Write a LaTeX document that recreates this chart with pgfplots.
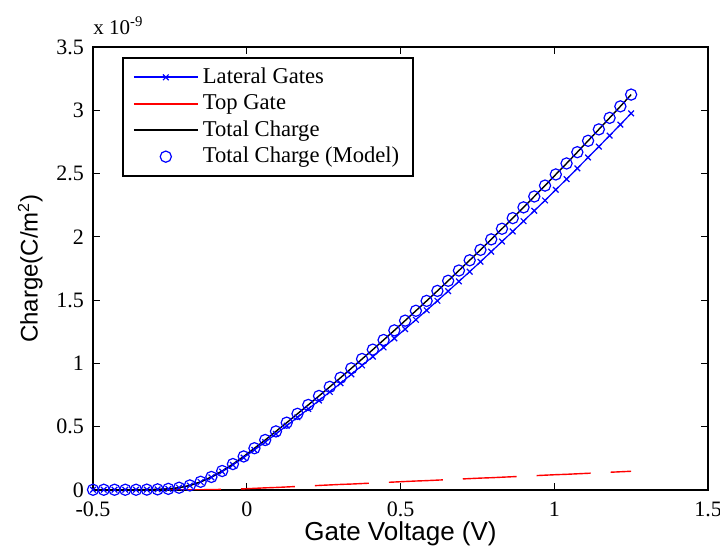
\documentclass[border=0pt]{standalone}
\usepackage{fontspec}
\setmainfont{Liberation Serif}
\newfontfamily\arial{Liberation Sans}
\usepackage{pgfplots}
\usepackage{pgfplotstable}
\pgfplotsset{compat=1.18}
\pgfplotstableread{
x lat top tot
-0.500 0.002 0.000 0.002
-0.465 0.002 0.000 0.002
-0.430 0.002 0.000 0.002
-0.395 0.002 0.000 0.002
-0.360 0.002 0.000 0.002
-0.325 0.003 0.000 0.003
-0.290 0.005 0.000 0.005
-0.255 0.009 0.000 0.009
-0.220 0.018 0.000 0.018
-0.185 0.035 0.001 0.036
-0.150 0.063 0.002 0.065
-0.115 0.100 0.003 0.103
-0.080 0.145 0.005 0.150
-0.045 0.198 0.007 0.205
-0.010 0.256 0.009 0.265
0.025 0.317 0.013 0.330
0.060 0.378 0.017 0.395
0.095 0.443 0.020 0.463
0.130 0.508 0.024 0.532
0.165 0.574 0.028 0.602
0.200 0.640 0.032 0.672
0.235 0.707 0.036 0.743
0.270 0.775 0.040 0.815
0.305 0.843 0.044 0.887
0.340 0.914 0.047 0.961
0.375 0.984 0.051 1.035
0.410 1.054 0.055 1.109
0.445 1.126 0.059 1.185
0.480 1.198 0.063 1.261
0.515 1.271 0.067 1.338
0.550 1.345 0.071 1.416
0.585 1.420 0.074 1.494
0.620 1.495 0.078 1.573
0.655 1.571 0.082 1.653
0.690 1.648 0.086 1.734
0.725 1.725 0.090 1.815
0.760 1.803 0.094 1.897
0.795 1.883 0.097 1.980
0.830 1.963 0.101 2.064
0.865 2.043 0.105 2.148
0.900 2.124 0.109 2.233
0.935 2.206 0.113 2.319
0.970 2.288 0.117 2.405
1.005 2.372 0.121 2.493
1.040 2.456 0.124 2.580
1.075 2.541 0.128 2.669
1.110 2.627 0.132 2.759
1.145 2.713 0.136 2.849
1.180 2.800 0.140 2.940
1.215 2.887 0.144 3.031
1.250 2.976 0.148 3.124
}\datatable
\begin{document}
\begin{tikzpicture}
\begin{axis}[
  scale only axis,
  width=307.5pt, height=221.5pt,
  xmin=-0.5, xmax=1.5, ymin=0, ymax=3.5,
  xtick={-0.5,0,0.5,1,1.5},
  xticklabels={-0.5,0,0.5,1,1.5},
  ytick={0,0.5,1,1.5,2,2.5,3,3.5},
  yticklabels={0,0.5,1,1.5,2,2.5,3,3.5},
  scaled y ticks=false,
  tick align=inside,
  major tick length=3.5pt,
  axis line style={line width=0.8pt},
  every tick/.style={black, line width=0.6pt},
  tick label style={font=\fontsize{11}{12}\selectfont},
  xticklabel style={yshift=-2.5pt},
  yticklabel style={xshift=-1pt},
  xlabel={\arial Gate Voltage (V)},
  ylabel={\arial Charge(C/m\textsuperscript{2})},
  xlabel style={font=\fontsize{13}{15}\selectfont, yshift=4.5pt},
  ylabel style={font=\fontsize{12}{14}\selectfont, yshift=0pt},
  legend cell align=left,
  legend style={at={(0.047,0.977)}, anchor=north west, draw=black, line width=0.8pt,
    font=\fontsize{11.3}{12}\selectfont, row sep=0pt, inner xsep=5pt, inner ysep=3pt,
    /tikz/every even column/.append style={column sep=6pt}},
]
\coordinate (bl) at (rel axis cs:0,0);
\coordinate (tr) at (rel axis cs:1,1);
\addplot[blue, line width=0.6pt, mark=x, mark size=2pt,
  legend image code/.code={
    \path[draw=blue, line width=1.1pt] (0pt,0pt) -- (32pt,0pt);
    \path[draw=blue, line width=0.6pt] plot[mark=x, mark size=2pt] coordinates {(16pt,0pt)};}]
  table[x=x, y=lat] {\datatable};
\addlegendentry{Lateral Gates}
\addplot[red, line width=0.7pt, dash pattern=on 27pt off 10pt,
  legend image code/.code={\path[draw=red, solid, line width=1.1pt] (0pt,0pt) -- (32pt,0pt);}]
  table[x=x, y=top] {\datatable};
\addlegendentry{Top Gate}
\addplot[black, line width=0.7pt, no marks,
  legend image code/.code={\path[draw=black, solid, line width=0.9pt] (0pt,0pt) -- (32pt,0pt);}]
  table[x=x, y=tot] {\datatable};
\addlegendentry{Total Charge}
\addplot[blue, only marks, mark=o, mark size=2.8pt, mark options={line width=0.6pt},
  legend image code/.code={\path[draw=blue, line width=0.6pt] plot[mark=o, mark size=2.8pt] coordinates {(16pt,0pt)};}]
  table[x=x, y=tot] {\datatable};
\addlegendentry{Total Charge (Model)}
\end{axis}
\node[anchor=south west, font=\fontsize{10.5}{12}\selectfont, inner sep=0pt, yshift=6pt] at (bl |- tr) {x 10\textsuperscript{-9}};
\pgfresetboundingbox
\path[use as bounding box] ([xshift=-46.5pt,yshift=-29pt]bl) rectangle ([xshift=6pt,yshift=23.5pt]tr);
\end{tikzpicture}
\end{document}
